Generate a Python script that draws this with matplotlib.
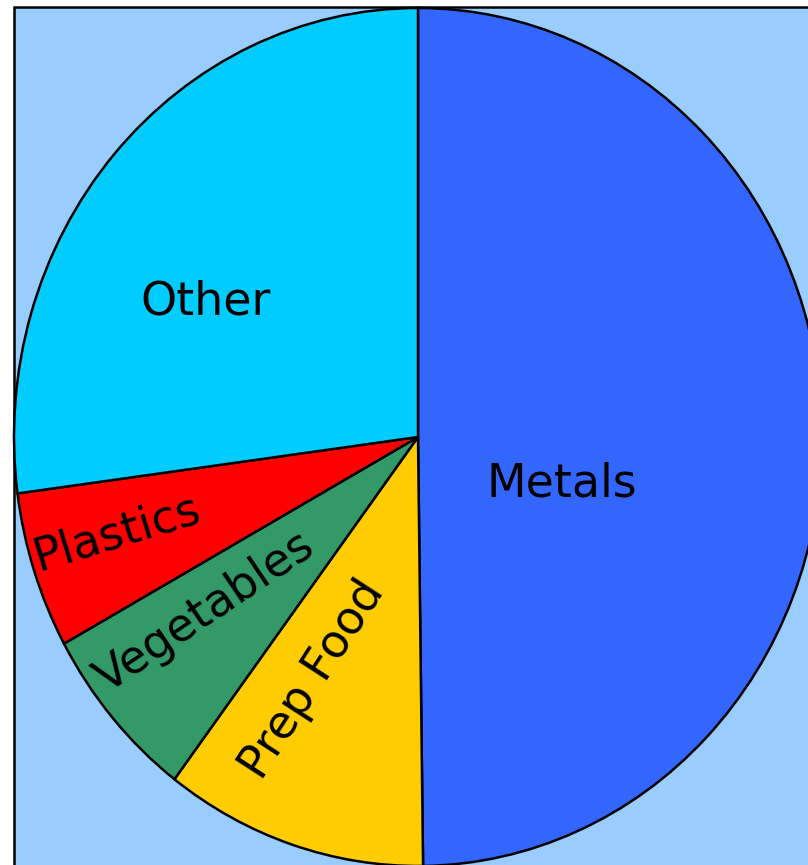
import matplotlib
matplotlib.use('Agg')
import matplotlib.pyplot as plt
from matplotlib.patches import Rectangle

# -------------------- Datos --------------------
categories = ['Metals', 'Prep Food', 'Vegetables', 'Plastics', 'Other']
shares = [49.8, 10.5, 6.7, 5.9, 27.1]
colors = ['#3366FF', '#FFCC00', '#339966', '#FF0000', '#00CCFF']

# posiciones y giros de las etiquetas (coordenadas del pastel)
label_pos = [(0.356, -0.110), (-0.260, -0.566), (-0.527, -0.408), (-0.745, -0.224), (-0.527, 0.315)]
label_rot = [0, 57, 34, 17, 0]

fig = plt.figure(figsize=(8.08, 8.65), dpi=100)
fig.patch.set_facecolor('white')
ax = fig.add_axes([0, 0, 1, 1])
ax.set_axis_off()

# fondo azul claro con borde a la izquierda y arriba
bg = Rectangle((14 / 808, -0.05), 1.2, 1 - 7 / 865 + 0.05, transform=ax.transAxes,
               facecolor='#99CCFF', edgecolor='black', linewidth=1.8, zorder=0)
ax.add_patch(bg)

wedges, _ = ax.pie(shares, colors=colors, startangle=90, counterclock=False,
                   wedgeprops=dict(edgecolor='black', linewidth=1.8))
for w in wedges:
    w.set_zorder(2)

ax.set_aspect('auto')
ax.set_xlim(-418 / 404, 390 / 404)
ax.set_ylim(-428 / 429, 437 / 429)

for name, (x, y), rot in zip(categories, label_pos, label_rot):
    ax.text(x, y, name, fontsize=33, rotation=rot, ha='center', va='center',
            rotation_mode='anchor', color='black', zorder=3)

fig.savefig('out.png', dpi=100)
